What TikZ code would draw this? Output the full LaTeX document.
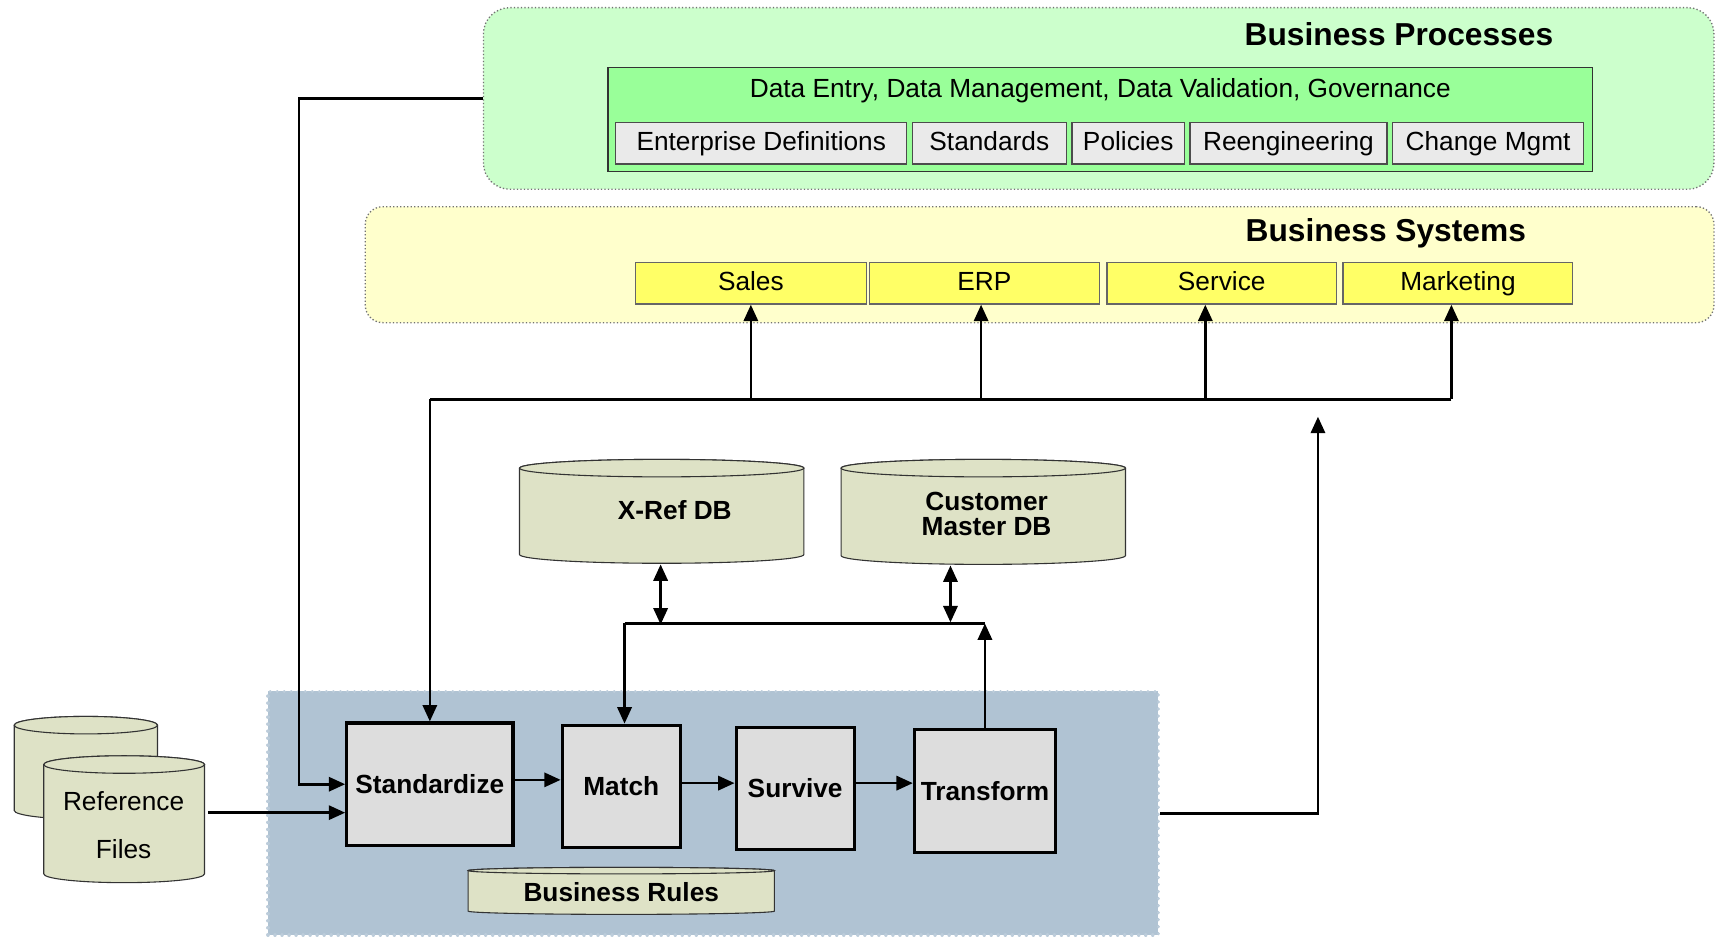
\documentclass[tikz,border=0pt]{standalone}
\usepackage{fontspec}
\setmainfont{Liberation Sans}
\usetikzlibrary{arrows.meta,calc}
\definecolor{bpout}{HTML}{CCFFCC}
\definecolor{bpin}{HTML}{99FF99}
\definecolor{subgray}{HTML}{EAEAEA}
\definecolor{bsout}{HTML}{FFFFCC}
\definecolor{bsbox}{HTML}{FFFF66}
\definecolor{dbfill}{HTML}{DEE2C6}
\definecolor{bluereg}{HTML}{B0C3D3}
\definecolor{procfill}{HTML}{DDDDDD}
\newcommand\dbcyl[5]{%
  \pgfmathsetmacro\cylcx{(#1+#2)/2}%
  \pgfmathsetmacro\cylrx{(#2-#1)/2}%
  \filldraw[cylst] (#1,#3) -- (#1,#4) arc[start angle=180,end angle=0,x radius=\cylrx,y radius=#5] -- (#2,#3) arc[start angle=360,end angle=180,x radius=\cylrx,y radius=#5] -- cycle;
  \filldraw[cylst] (\cylcx,#3) ellipse[x radius=\cylrx,y radius=#5];
}
\tikzset{
  cylst/.style={fill=dbfill,draw=black!80,line width=0.5pt},
  reg/.style={font=\fontsize{12}{14}\selectfont},
  bld/.style={font=\fontsize{12}{14}\selectfont\bfseries},
  ttl/.style={font=\fontsize{14.5}{17}\selectfont\bfseries},
  fixt/.style={text height=8.8pt,text depth=2.6pt},
  subbox/.style={draw=black!70,fill=subgray,line width=0.6pt,minimum height=19pt,inner sep=0pt,reg,fixt},
  ybox/.style={draw=black!60,fill=bsbox,line width=0.6pt,minimum height=19pt,inner sep=0pt,reg,fixt},
  proc/.style={draw=black,fill=procfill,line width=1.4pt,minimum height=56pt,inner sep=0pt,bld},
  ln/.style={line width=1.2pt},
  arr/.style={line width=1.2pt,-{Triangle[length=7.5pt,width=6.5pt]}},
  arrb/.style={line width=1.2pt,{Triangle[length=7.5pt,width=6.5pt]}-{Triangle[length=7.5pt,width=6.5pt]}},
}
\begin{document}
\begin{tikzpicture}[x=0.5pt,y=-0.5pt]
\useasboundingbox (0,0) rectangle (1568,856);
\fill[white] (0,0) rectangle (1568,856);

% Business Processes
\node[draw=black!55,densely dotted,line width=0.6pt,fill=bpout,rounded corners=12pt,minimum width=562.5pt,minimum height=83pt,inner sep=0pt] (bp) at (1004.5,90) {};
\node[ttl] (bptitle) at (1279,31) {Business Processes};
\node[draw=black!80,fill=bpin,line width=0.6pt,minimum width=450pt,minimum height=47.5pt,inner sep=0pt] (bpinner) at (1006,109.5) {};
\node[reg] (bptext) at (1006,83) {Data Entry, Data Management, Data Validation, Governance};
\node[subbox,minimum width=133pt] (ed) at (696,131) {Enterprise Definitions};
\node[subbox,minimum width=70.5pt] (std) at (904.5,131) {Standards};
\node[subbox,minimum width=51.5pt] (pol) at (1031.5,131) {Policies};
\node[subbox,minimum width=90pt] (reeng) at (1178,131) {Reengineering};
\node[subbox,minimum width=87.5pt] (chg) at (1360.5,131) {Change Mgmt};

% Business Systems
\node[draw=black!55,densely dotted,line width=0.6pt,fill=bsout,rounded corners=8pt,minimum width=616.5pt,minimum height=53pt,inner sep=0pt] (bs) at (950.5,242) {};
\node[ttl] (bstitle) at (1267,213) {Business Systems};
\node[ybox,minimum width=105.5pt] (sales) at (686.5,259) {Sales};
\node[ybox,minimum width=105pt] (erp) at (900,259) {ERP};
\node[ybox,minimum width=105pt] (serv) at (1117,259) {Service};
\node[ybox,minimum width=105pt] (mkt) at (1333,259) {Marketing};

% blue region
\node[fill=bluereg,draw=bluereg!85!white,line width=1.6pt,dash pattern=on 0.01pt off 3.2pt,line cap=round,minimum width=407pt,minimum height=111.5pt,inner sep=0pt] (blue) at (652,743.5) {};

% databases
\dbcyl{475}{735}{428}{507}{8}
\node[bld] (xref) at (617,466) {X-Ref DB};
\dbcyl{769}{1029}{428}{508}{8}
\node[bld,align=center,font=\fontsize{12}{11.5}\selectfont\bfseries] (cmdb) at (902,470) {Customer\\Master DB};
\dbcyl{428}{708}{796}{833}{3}
\node[bld] (rules) at (568,816) {Business Rules};
\dbcyl{13}{144}{663}{741}{8}
\dbcyl{40}{187}{699}{799}{8}
\node[reg,align=center,font=\fontsize{12}{22}\selectfont] (reff) at (113,754) {Reference\\Files};

% process boxes
\node[proc,minimum width=76pt] (stdz) at (393,717) {Standardize};
\node[proc,minimum width=54pt] (match) at (568,719) {Match};
\node[proc,minimum width=54pt] (surv) at (727,721) {Survive};
\node[proc,minimum width=64.5pt] (trans) at (900.5,723) {Transform};

% connectors
\draw[arr] (bp.west) -- ++(-168,0) |- (stdz.west);
\coordinate (busL) at (393,365);
\coordinate (b1) at (686.5,365);
\coordinate (b2) at (897,365);
\coordinate (b3) at (1102,365);
\coordinate (b4) at (1327,365);
\draw[ln] (b4) -- (busL);
\draw[arr] (busL) -- (stdz.north);
\draw[arr] (b1) -- (sales.south);
\draw[arr] (b2) -- (b2 |- erp.south);
\draw[arr] (b3) -- (b3 |- serv.south);
\draw[arr] (b4) -- (b4 |- mkt.south);
\coordinate (outR) at (1205,381);
\draw[arr] (blue.east) -| (outR);
\coordinate (refout) at (190,743);
\draw[arr] (refout) -- (refout -| stdz.west);
\coordinate (s1) at ($(stdz.east)+(0,-4)$);
\draw[arr] (s1) -- (s1 -| match.west);
\coordinate (s2) at ($(match.east)+(0,-3)$);
\draw[arr] (s2) -- (s2 -| surv.west);
\coordinate (s3) at ($(surv.east)+(0,-5)$);
\draw[arr] (s3) -- (s3 -| trans.west);
\coordinate (j1) at (571,570);
\coordinate (j2) at (900.5,570);
\draw[ln] (j1) -- (j2);
\draw[arr] (j1) -- (j1 |- match.north);
\draw[arr] (trans.north) -- (j2);
\coordinate (x1) at (604,571);
\coordinate (x2) at (869,569);
\draw[arrb] (x1) -- (604,516);
\draw[arrb] (x2) -- (869,517);
\end{tikzpicture}
\end{document}
